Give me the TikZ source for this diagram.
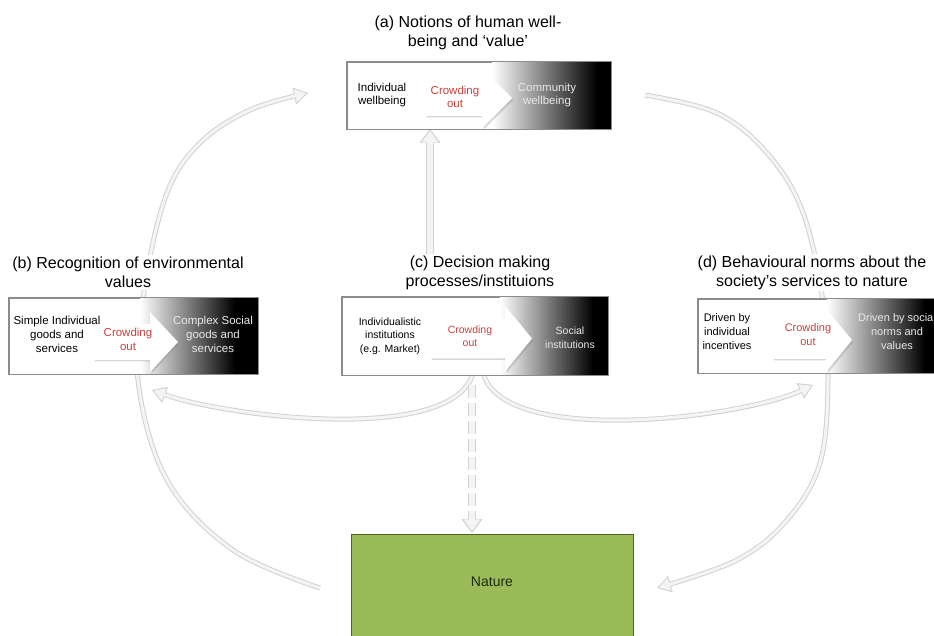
\documentclass[tikz,border=0pt]{standalone}
\usepackage{fontspec}
\setmainfont{Liberation Sans}
\usetikzlibrary{arrows.meta,shadows}
\definecolor{boxgray}{HTML}{8C8C8C}
\definecolor{arrgray}{HTML}{D2D2D2}
\definecolor{arrfill}{HTML}{F4F4F4}
\definecolor{crowdred}{HTML}{C8413C}
\definecolor{natgreen}{HTML}{9BBB59}
\definecolor{natborder}{HTML}{4F6228}
\definecolor{lighttext}{HTML}{E8E8E8}
\definecolor{nattext}{HTML}{1E2B0E}
\tikzset{
  saouter/.style={draw=arrgray, line width=5pt, -{Triangle[length=14pt,width=17pt,line width=0.5pt]}},
  sainner/.style={draw=arrfill, line width=3pt, shorten >=2pt, -{Triangle[length=11pt,width=13pt,line width=0.5pt]}},
  waouter/.style={draw=arrgray, line width=8pt, -{Triangle[length=14pt,width=21pt,line width=0.5pt]}},
  wainner/.style={draw=arrfill, line width=6pt, shorten >=1.8pt, -{Triangle[length=11.5pt,width=16.5pt,line width=0.5pt]}},
  dashpat/.style={dash pattern=on 13pt off 5pt},
  title/.style={fill=white, align=center, inner sep=2pt, font=\fontsize{16}{19}\selectfont},
  cbox/.style={draw=boxgray, fill=white, line width=0.8pt, inner sep=0pt},
  btext/.style={align=center, inner sep=1pt},
  fa/.style={btext, font=\fontsize{11.5}{13.5}\selectfont},
  fb/.style={btext, font=\fontsize{11.5}{14}\selectfont},
  fc/.style={btext, font=\fontsize{10.5}{13.5}\selectfont},
  fd/.style={btext, font=\fontsize{11}{14}\selectfont},
  blockshadow/.style={drop shadow={shadow xshift=1.5pt, shadow yshift=-1.5pt, opacity=0.3}},
}
% #1 x start, #2 x head base, #3 x tip, #4 y centre, #5 body half height, #6 head half height
\newcommand\crowdarrow[6]{%
  \fill[white, blockshadow] (#1,#4-#5) -- (#2,#4-#5) -- (#2,#4-#6) -- (#3,#4)
     -- (#2,#4+#6) -- (#2,#4+#5) -- (#1,#4+#5) -- cycle;}
\begin{document}
\begin{tikzpicture}[x=1pt,y=1pt]
\useasboundingbox (0,0) rectangle (934,635);
\clip (0,0) rectangle (934,635);

% ---------- free ends of connectors ----------
\coordinate (natL) at (320,47);
\coordinate (aL) at (308,542);
\coordinate (aR) at (645,540);
\coordinate (natR) at (657,47);
\coordinate (cBL) at (473,262);
\coordinate (cBR) at (483,262);
\coordinate (bTip) at (152,245);
\coordinate (dTip) at (813,250);
\coordinate (cTop) at (430,380);
\coordinate (aBot) at (430,506);
\coordinate (cDash) at (472,250);
\coordinate (natTop) at (472,102);

% ---------- soft grey connectors ----------
\foreach \st in {saouter,sainner}{
  \draw[\st] plot[smooth, tension=0.6] coordinates {(natL) (233,85) (167,155) (138,255) (145,350) (167,442) (200,492) (250,525) (aL)};
  \draw[\st] plot[smooth, tension=0.6] coordinates {(aR) (717,522) (767,482) (802,425) (822,340) (828,255) (820,172) (787,115) (737,75) (natR)};
  \draw[\st] (cBL) to[out=-105,in=-20,looseness=0.6] (bTip);
  \draw[\st] (cBR) to[out=-75,in=-155,looseness=0.6] (dTip);
}
\draw[waouter] (cTop) -- (aBot);
\draw[wainner] (cTop) -- (aBot);
\draw[waouter, dashpat] (cDash) -- (natTop);
\draw[wainner, dashpat] (cDash) -- (natTop);

% ---------- titles ----------
\node[title] (ta) at (468,602.5) {(a) Notions of human well-\\being and ‘value’};
\node[title] (tb) at (128,362.5) {(b) Recognition of environmental\\values};
\node[title] (tc) at (480,362.5) {(c) Decision making\\processes/instituions};
\node[title] (td) at (812,362.5) {(d) Behavioural norms about the\\society’s services to nature};

% ---------- box (a) ----------
\node[cbox, minimum width=264, minimum height=67] (boxA) at (479,539.5) {};
\shade[left color=white, right color=black] (492,506) rectangle (597,573);
\fill[black] (597,506) rectangle (611,573);
\crowdarrow{425}{482}{512}{537}{18}{30}
\node[fa] (indA) at (382,540) {Individual\\wellbeing};
\node[fa, text=crowdred] (crA) at (455,538) {Crowding\\out};
\node[fa, text=lighttext] (comA) at (547,540) {Community\\wellbeing};
\draw[boxgray, line width=0.8pt] (boxA.south west) rectangle (boxA.north east);

% ---------- box (b) ----------
\node[cbox, minimum width=249, minimum height=76] (boxB) at (133.5,299) {};
\shade[left color=white, right color=black] (140,261) rectangle (235,337);
\fill[black] (235,261) rectangle (258,337);
\crowdarrow{93}{150}{178}{293}{18}{30}
\node[fb] (simB) at (57,301) {Simple Individual\\goods and\\services};
\node[fb, text=crowdred] (crB) at (128,296) {Crowding\\out};
\node[fb, text=lighttext] (comB) at (213,301) {Complex Social\\goods and\\services};
\draw[boxgray, line width=0.8pt] (boxB.south west) rectangle (boxB.north east);

% ---------- box (c) ----------
\node[cbox, minimum width=266, minimum height=78] (boxC) at (475,299) {};
\shade[left color=white, right color=black] (500,260) rectangle (593,338);
\fill[black] (593,260) rectangle (608,338);
\crowdarrow{430}{505}{532}{296.5}{20}{33}
\node[fc] (indC) at (390,299) {Individualistic\\institutions\\(e.g. Market)};
\node[fc, text=crowdred] (crC) at (470,299) {Crowding\\out};
\node[fc, text=lighttext] (socC) at (570,297.5) {Social\\institutions};
\draw[boxgray, line width=0.8pt] (boxC.south west) rectangle (boxC.north east);

% ---------- box (d) ----------
\node[cbox, minimum width=265, minimum height=74] (boxD) at (830.5,299) {};
\shade[left color=white, right color=black] (827,262) rectangle (925,336);
\fill[black] (925,262) rectangle (963,336);
\crowdarrow{772}{826}{852}{295}{19}{32}
\node[fd] (indD) at (727,303) {Driven by\\individual\\incentives};
\node[fd, text=crowdred] (crD) at (808,300.5) {Crowding\\out};
\node[fd, text=lighttext] (socD) at (897,303) {Driven by social\\norms and\\values};
\draw[boxgray, line width=0.8pt] (boxD.south west) rectangle (boxD.north east);

% ---------- nature ----------
\node[draw=natborder, fill=natgreen, line width=1pt, minimum width=282, minimum height=112, anchor=north] (nature) at (492,101) {};
\node[text=nattext, font=\fontsize{14}{16}\selectfont] (natlabel) at (492,53) {Nature};
\end{tikzpicture}
\end{document}
